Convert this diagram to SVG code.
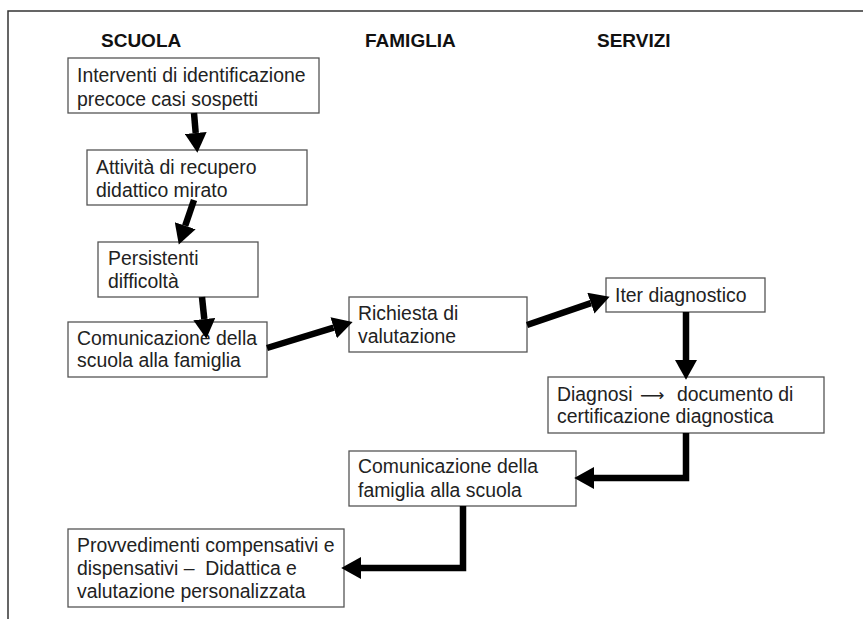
<svg xmlns="http://www.w3.org/2000/svg" width="863" height="619" viewBox="0 0 863 619">
<style>
.box{fill:#fff;stroke:#555;stroke-width:1.3}
.t{font-family:"Liberation Sans",Arial,sans-serif;font-size:19.4px;fill:#222;white-space:pre}
.h{font-family:"Liberation Sans",Arial,sans-serif;font-size:19px;font-weight:bold;fill:#111}
.c{fill:none;stroke:#000;stroke-width:6.5;stroke-linejoin:miter}
</style>
<defs>
<marker id="ah" markerUnits="userSpaceOnUse" markerWidth="20" markerHeight="22" refX="0" refY="10" orient="auto" viewBox="0 0 18 20">
<path d="M0,0 L18,10 L0,20 Z" fill="#000"/>
</marker>
</defs>
<rect width="863" height="619" fill="#fff"/>
<path d="M8,619 V11 H863" fill="none" stroke="#333" stroke-width="1.5"/>
<g id="headers">
<text class="h" x="101" y="47">SCUOLA</text>
<text class="h" x="365" y="47">FAMIGLIA</text>
<text class="h" x="597" y="47">SERVIZI</text>
</g>
<g id="n1"><rect class="box" x="68" y="58" width="251" height="55"/>
<text class="t" x="77" y="82">Interventi di identificazione</text>
<text class="t" x="77" y="106">precoce casi sospetti</text></g>
<g id="n2"><rect class="box" x="87" y="150" width="220" height="55"/>
<text class="t" x="96" y="174">Attività di recupero</text>
<text class="t" x="96" y="197">didattico mirato</text></g>
<g id="n3"><rect class="box" x="98" y="242" width="160" height="55"/>
<text class="t" x="108" y="265">Persistenti</text>
<text class="t" x="108" y="288">difficoltà</text></g>
<g id="n4"><rect class="box" x="68" y="322" width="199" height="55"/>
<text class="t" x="77" y="345">Comunicazione della</text>
<text class="t" x="77" y="367">scuola alla famiglia</text></g>
<g id="n5"><rect class="box" x="349" y="297" width="178" height="55"/>
<text class="t" x="358" y="320">Richiesta di</text>
<text class="t" x="358" y="343">valutazione</text></g>
<g id="n6"><rect class="box" x="606" y="278" width="159" height="34"/>
<text class="t" x="615" y="302">Iter diagnostico</text></g>
<g id="n7"><rect class="box" x="548" y="377" width="276" height="56"/>
<text class="t" x="557" y="401">Diagnosi <tspan x="640" font-family="DejaVu Sans, sans-serif" font-size="17">⟶</tspan><tspan x="677">documento di</tspan></text>
<text class="t" x="557" y="423">certificazione diagnostica</text></g>
<g id="n8"><rect class="box" x="349" y="451" width="227" height="55"/>
<text class="t" x="358" y="473">Comunicazione della</text>
<text class="t" x="358" y="497">famiglia alla scuola</text></g>
<g id="n9"><rect class="box" x="68" y="529" width="276" height="78"/>
<text class="t" x="77" y="552">Provvedimenti compensativi e</text>
<text class="t" x="77" y="575">dispensativi –  Didattica e</text>
<text class="t" x="77" y="598">valutazione personalizzata</text></g>
<g id="connectors">
<path class="c" d="M194,113 L195.7,133" marker-end="url(#ah)"/>
<path class="c" d="M194,200 L185.2,225.8" marker-end="url(#ah)"/>
<path class="c" d="M202,297 L204.3,319.1" marker-end="url(#ah)"/>
<path class="c" d="M267,348 L333.7,327.7" marker-end="url(#ah)"/>
<path class="c" d="M527,325 L590.9,303.2" marker-end="url(#ah)"/>
<path class="c" d="M686,312 L686,360" marker-end="url(#ah)"/>
<path class="c" d="M686,433 V478 H594" marker-end="url(#ah)"/>
<path class="c" d="M463,506 V568 H361" marker-end="url(#ah)"/>
</g>
</svg>
